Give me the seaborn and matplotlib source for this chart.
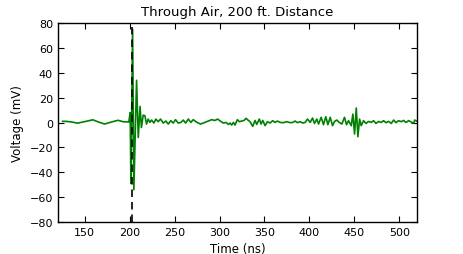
"""Through-air waveform plot"""
import matplotlib
matplotlib.use("Agg")
import matplotlib.pyplot as plt
import pandas as pd
import seaborn as sns

# waveform (time in ns, voltage in mV)
time_ns = [125, 130, 135, 142, 150, 159, 165, 172, 180, 187, 193, 199,
           200.5, 201.3, 203.2, 204.6, 207.6, 209.5, 211.5, 213, 215,
           216.9, 218.7, 220.6, 222.4, 224.3, 226.9, 229.1, 231.7, 234.3,
           237.3, 240.3, 242.9, 245.8, 248.4, 251.0, 254.0, 257.0, 259.6,
           262.2, 265.2, 268.1, 270.7, 273.7, 276.3, 278.9, 281.9, 285.6,
           288.2, 291.2, 294.9, 297.9, 300.8, 304.2, 307.2, 309.8, 311.6,
           313.5, 315.4, 317.2, 319.8, 322.1, 324.7, 327.3, 329.5, 332.1,
           334.0, 336.9, 339.5, 341.4, 344.3, 346.2, 348.1, 350.7, 353.3,
           356.2, 359.2, 361.8, 364.4, 367.4, 371.1, 374.8, 378.5, 381.5,
           384.1, 386.7, 389.7, 392.7, 395.3, 397.9, 400.9, 403.5, 405.7,
           408.3, 410.2, 413.1, 415.7, 418.3, 420.6, 423.2, 425.8, 428.0,
           430.6, 433.2, 436.2, 439.1, 441.4, 443.6, 446.6, 448.4, 450.3,
           452.2, 454.0, 455.9, 457.7, 460.3, 463.0, 465.9, 468.9, 471.5,
           474.1, 477.1, 480.0, 482.6, 485.2, 488.2, 491.2, 493.8, 496.4,
           499.3, 502.3, 504.9, 507.5, 510.5, 513.5, 516.1, 517.2, 520]
voltage_mv = [1.0, 0.9, 0.5, -0.5, 0.8, 2.2, 0.5, -1.2, 0.5, 1.8, 0.6, 0.5,
              8, -49, 75, -54, 34, -12, 13, -4, 6,
              5.5, -1.2, 2.8, 0.1, 2.0, -0.4, 2.8, 0.7, 2.8,
              -0.4, 1.2, -1.2, 1.5, -0.4, 2.3, -0.4, 0.1, 2.0,
              -0.4, 2.8, 0.1, 2.3, 0.7, -0.4, -1.2, -0.4, 0.7,
              1.5, 2.3, 1.7, 2.8, 1.2, -0.4, 0.1, -1.5, -0.4,
              -2.0, 0.1, -2.0, 2.3, 0.7, 1.2, 1.7, 3.4, 1.7,
              0.7, -3.1, 1.7, -1.5, 2.8, -1.2, 1.7, -2.5, 0.7,
              -0.4, 1.5, 0.1, 1.2, 0.1, -0.1, 0.7, -0.1, 0.1,
              1.2, -0.1, 0.7, -0.4, 0.1, 2.8, 0.1, 3.6, -0.7,
              2.8, -1.2, 4.2, -1.7, 4.7, -1.7, 4.2, -2.5, 0.9,
              2.0, 0.1, -1.2, 4.2, -1.7, 1.5, -2.5, 6.8, -9.2,
              11.7, -11.4, 2.8, -2.5, 1.5, -0.7, 0.9, 0.1, 1.5,
              -0.7, 0.9, 0.1, 1.5, -0.1, 0.9, -0.7, 2.0, -0.1,
              1.5, 0.7, 1.7, 0.1, 1.5, 0.4, -0.7, 2.0, 1.0]
arrival_ns = 202.5

df = pd.DataFrame({"Time (ns)": time_ns, "Voltage (mV)": voltage_mv})

sns.set_style("white", {"xtick.direction": "in", "ytick.direction": "in",
                        "axes.edgecolor": "black", "text.color": "black",
                        "axes.labelcolor": "black",
                        "xtick.color": "black", "ytick.color": "black"})
plt.rcParams["font.family"] = ["DejaVu Sans"]

fig = plt.figure(figsize=(4.63, 2.55), dpi=100)
ax = fig.add_axes([0.125, 0.1255, 0.776, 0.78])

sns.lineplot(data=df, x="Time (ns)", y="Voltage (mV)", color="green",
             linewidth=1.2, ax=ax, sort=False)
ax.axvline(arrival_ns, color="black", linestyle="--", dashes=(4.5, 3),
           linewidth=1.2)

ax.set_xlim(120, 520)
ax.set_ylim(-80, 80)
ax.set_xticks([150, 200, 250, 300, 350, 400, 450, 500])
ax.set_yticks(range(-80, 81, 20))
ax.tick_params(axis="both", labelsize=8, length=4, width=0.8,
               top=True, right=True, bottom=True, left=True, colors="black")
for spine in ax.spines.values():
    spine.set_linewidth(1.0)
ax.set_xlabel("Time (ns)", fontsize=8.5, color="black")
ax.set_ylabel("Voltage (mV)", fontsize=8.5, color="black")
ax.set_title("Through Air, 200 ft. Distance", fontsize=9.5, color="black")

fig.savefig("out.png", dpi=100)
